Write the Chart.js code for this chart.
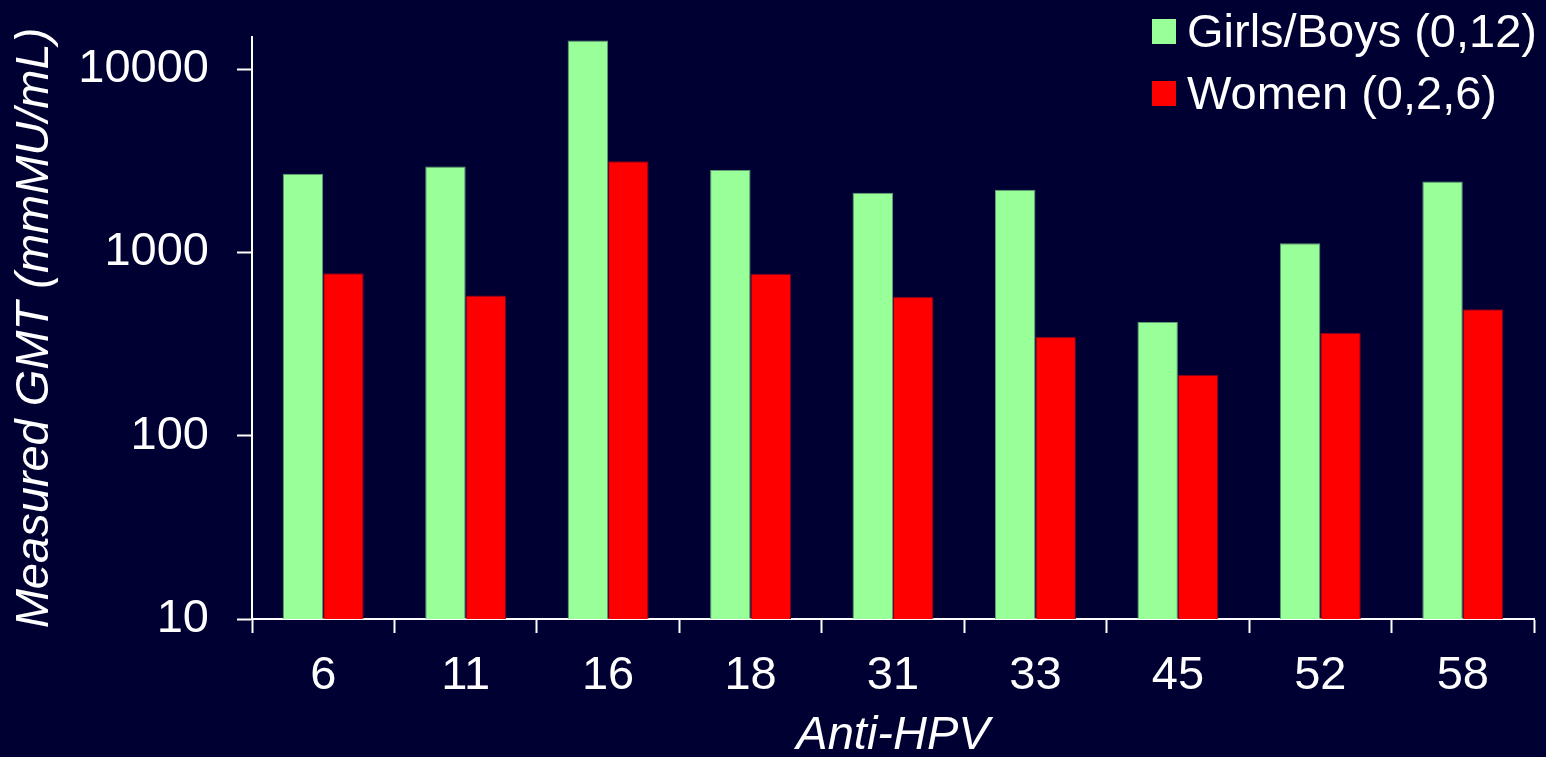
<!DOCTYPE html>
<html>
<head>
<meta charset="utf-8">
<script src="https://cdn.jsdelivr.net/npm/chart.js@4.4.1/dist/chart.umd.min.js"></script>
<style>
  html, body { margin: 0; padding: 0; background: #000033; overflow: hidden; }
  #wrap { position: relative; width: 1546px; height: 757px; }
  #legend { position: absolute; left: 1152px; top: 0; font-family: Arial, "Liberation Sans", sans-serif; font-size: 47px; line-height: 62px; color: #fff; }
  #legend .row { display: flex; align-items: center; white-space: nowrap; }
  #legend .box { width: 24px; height: 25px; margin-right: 11px; }
</style>
</head>
<body>
<div id="wrap">
  <canvas id="chart" width="1546" height="757"></canvas>
  <div id="legend"></div>
</div>
<script>
const categories = ["6", "11", "16", "18", "31", "33", "45", "52", "58"];
const girlsBoys = [2690, 2950, 14350, 2820, 2120, 2200, 418, 1125, 2440];
const women = [770, 582, 3150, 765, 573, 347, 215, 365, 490];
const seriesNames = ["Girls/Boys (0,12)", "Women (0,2,6)"];
const seriesColors = ["#99ff99", "#ff0000"];
const borderColors = ["#5f9a78", "#7a0020"];
const yTicks = [10, 100, 1000, 10000];

const font = "Arial, 'Liberation Sans', sans-serif";

const datasets = [girlsBoys, women].map((data, i) => ({
  label: seriesNames[i],
  data,
  backgroundColor: seriesColors[i],
  borderColor: borderColors[i],
  borderWidth: 1,
  borderSkipped: "bottom",
  barPercentage: 1,
  categoryPercentage: 0.568,
}));

new Chart(document.getElementById("chart"), {
  type: "bar",
  data: { labels: categories, datasets },
  options: {
    responsive: false,
    animation: false,
    layout: { padding: { top: 37, right: 12, left: 0, bottom: 0 } },
    plugins: { legend: { display: false }, tooltip: { enabled: false } },
    scales: {
      x: {
        grid: {
          display: true,
          drawOnChartArea: false,
          drawTicks: true,
          tickLength: 14,
          tickWidth: 2,
          color: "#ffffff",
        },
        border: { display: true, color: "#ffffff", width: 2 },
        ticks: {
          color: "#ffffff",
          font: { family: font, size: 47 },
          padding: 15,
          maxRotation: 0,
        },
        title: {
          display: true,
          text: "Anti-HPV",
          color: "#ffffff",
          font: { family: font, size: 47, style: "italic", lineHeight: 0.9 },
          padding: { top: 0, bottom: 0 },
        },
        afterFit: (s) => {
          s.height = 138;
          s.paddingLeft = 0;
          s.paddingRight = 0;
        },
      },
      y: {
        type: "logarithmic",
        min: 10,
        max: 15000,
        grid: {
          display: true,
          drawOnChartArea: false,
          drawTicks: true,
          tickLength: 15,
          tickWidth: 2,
          color: "#ffffff",
        },
        border: { display: true, color: "#ffffff", width: 2 },
        afterBuildTicks: (s) => { s.ticks = yTicks.map((v) => ({ value: v })); },
        ticks: {
          color: "#ffffff",
          font: { family: font, size: 47 },
          padding: 28,
          callback: (v) => String(v),
        },
        title: {
          display: true,
          text: "Measured GMT (mmMU/mL)",
          color: "#ffffff",
          font: { family: font, size: 47, style: "italic", lineHeight: 1.2 },
          padding: { top: 7, bottom: 0 },
        },
        afterFit: (s) => {
          s.width = 252;
          s.paddingTop = 0;
          s.paddingBottom = 0;
        },
      },
    },
  },
});

const legend = document.getElementById("legend");
seriesNames.forEach((name, i) => {
  const row = document.createElement("div");
  row.className = "row";
  const box = document.createElement("span");
  box.className = "box";
  box.style.background = seriesColors[i];
  const txt = document.createElement("span");
  txt.textContent = name;
  row.appendChild(box);
  row.appendChild(txt);
  legend.appendChild(row);
});
</script>
</body>
</html>
